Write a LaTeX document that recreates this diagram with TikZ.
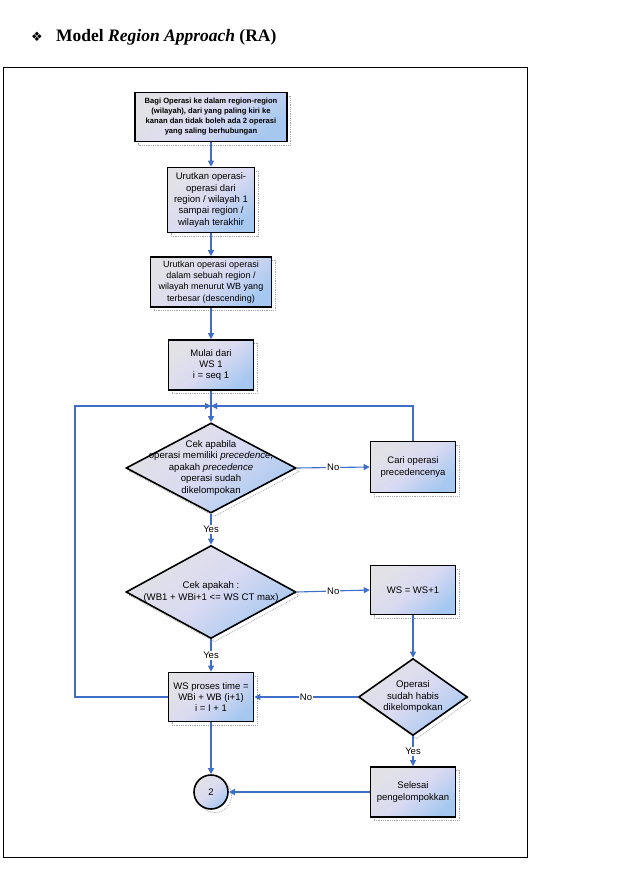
\documentclass[tikz,border=0pt]{standalone}
\usepackage{fontspec}
\setmainfont{Liberation Serif}
\newfontfamily\boxfont{Liberation Sans}
\newfontfamily\symfont{DejaVu Sans}
\usetikzlibrary{arrows.meta,shapes.geometric,shadows}
\definecolor{lineblue}{RGB}{62,110,200}
\definecolor{boxblue}{RGB}{166,200,240}
\definecolor{boxgrey}{RGB}{226,226,230}
\definecolor{boxlav}{RGB}{218,218,242}
\tikzset{
 dotshadow/.style={general shadow={draw=gray!70, densely dotted, line width=0.8pt, shadow xshift=3.5pt, shadow yshift=-3.5pt}},
 isian/.style={top color=boxgrey, bottom color=boxblue, middle color=boxlav, shading angle=40},
}

\begin{document}
\begin{tikzpicture}[x=1pt,y=-1pt,
 blok/.style={draw=black, line width=1.6pt, isian, dotshadow, align=center, inner sep=2pt, font=\boxfont\fontsize{9.5}{11.3}\selectfont},
 keputusan/.style={diamond, draw=black, line width=1.6pt, isian, dotshadow, inner sep=0pt},
 tulisan/.style={align=center, font=\boxfont\fontsize{9.6}{11.5}\selectfont},
 panah/.style={draw=lineblue, line width=1.1pt, -{Triangle[length=6pt,width=6pt]}},
 ket/.style={fill=white, inner sep=1pt, font=\boxfont\fontsize{9.5}{10}\selectfont}]
 \useasboundingbox (0,0) rectangle (632,869);

 %judul
 \node (bintang) at (37,37) {\symfont\fontsize{13}{14}\selectfont ❖};
 \node[anchor=west, inner sep=0pt, font=\fontsize{17.5}{20}\selectfont\bfseries] (judul) at (56,37) {Model \textit{Region Approach} (RA)};
 \draw[line width=0.8pt] (3,67) rectangle (527,857);

 %langkah awal
 \node[blok, minimum width=152pt, minimum height=49pt, font=\boxfont\bfseries\fontsize{7.6}{10}\selectfont] (bagi) at (211,117)
  {Bagi Operasi ke dalam region-region\\(wilayah), dari yang paling kiri ke\\kanan dan tidak boleh ada 2 operasi\\yang saling berhubungan};
 \node[blok, minimum width=87pt, minimum height=65pt] (urut1) at (211,200)
  {Urutkan operasi-\\operasi dari\\region / wilayah 1\\sampai region /\\wilayah terakhir};
 \node[blok, minimum width=121pt, minimum height=50pt, font=\boxfont\fontsize{9}{11.3}\selectfont] (urut2) at (211,282)
  {Urutkan operasi operasi\\dalam sebuah region /\\wilayah menurut WB yang\\terbesar (descending)};
 \node[blok, minimum width=85pt, minimum height=50pt] (mulai) at (211,365)
  {Mulai dari\\WS 1\\i = seq 1};

 %cek precedence
 \node[keputusan, minimum width=170pt, minimum height=90pt] (cek1) at (211,468) {};
 \node[tulisan] (cek1t) at (cek1) {Cek apabila\\operasi memiliki \textit{precedence},\\apakah \textit{precedence}\\operasi sudah\\dikelompokan};
 \node[blok, minimum width=85pt, minimum height=51pt] (cari) at (413,467)
  {Cari operasi\\precedencenya};

 %cek waktu siklus
 \node[keputusan, minimum width=170pt, minimum height=93pt] (cek2) at (211,592) {};
 \node[tulisan] (cek2t) at (cek2) {Cek apakah :\\(WB1 + WBi+1 <= WS CT max)};
 \node[blok, minimum width=85pt, minimum height=49pt] (wsplus) at (413,590) {WS = WS+1};
 \node[keputusan, minimum width=109pt, minimum height=77pt] (habis) at (413,697) {};
 \node[tulisan] (habist) at (habis) {Operasi\\sudah habis\\dikelompokan};
 \node[blok, minimum width=85pt, minimum height=49pt] (proses) at (211,697)
  {WS proses time =\\WBi + WB (i+1)\\i = I + 1};
 \node[blok, minimum width=85pt, minimum height=50pt] (selesai) at (413,792)
  {Selesai\\pengelompokkan};
 \node[blok, circle, minimum size=34pt, inner sep=0pt] (konek) at (211,792) {2};

 %garis balik
 \coordinate (merge) at (211,406);
 \coordinate (loopL) at (75,406);

 \draw[panah] (bagi) -- (urut1);
 \draw[panah] (urut1) -- (urut2);
 \draw[panah] (urut2) -- (mulai);
 \draw[panah] (mulai) -- (cek1);
 \draw[panah] (proses.west) -| (loopL) -- (merge);
 \draw[panah] (cari.north) |- (merge);
 \draw[panah] (cek1.east) -- node[ket]{No} (cari.west);
 \draw[panah] (cek1.south) -- node[ket]{Yes} (cek2.north);
 \draw[panah] (cek2.east) -- node[ket]{No} (wsplus.west);
 \draw[panah] (cek2.south) -- node[ket]{Yes} (proses.north);
 \draw[panah] (wsplus.south) -- (habis.north);
 \draw[panah] (habis.west) -- node[ket]{No} (proses.east);
 \draw[panah] (habis.south) -- node[ket]{Yes} (selesai.north);
 \draw[panah] (selesai.west) -- (konek.east);
 \draw[panah] (proses.south) -- (konek.north);
\end{tikzpicture}
\end{document}
